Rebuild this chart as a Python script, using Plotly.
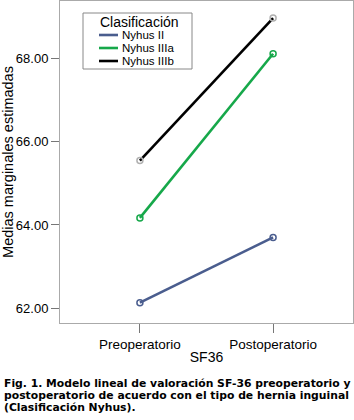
import plotly.graph_objects as go

categories = ["Preoperatorio", "Postoperatorio"]
series_names = ["Nyhus II", "Nyhus IIIa", "Nyhus IIIb"]
nyhus_ii = [62.13, 63.70]
nyhus_iiia = [64.17, 68.12]
nyhus_iiib = [65.55, 68.98]
y_ticks = [62, 64, 66, 68]
y_tick_labels = ["62.00", "64.00", "66.00", "68.00"]
caption_lines = [
    "Fig. 1. Modelo lineal de valoración SF-36 preoperatorio y",
    "postoperatorio de acuerdo con el tipo de hernia inguinal",
    "(Clasificación Nyhus).",
]

values = [nyhus_ii, nyhus_iiia, nyhus_iiib]
line_colors = ["#4a5d8e", "#16a84a", "#000000"]
marker_colors = ["#4a5d8e", "#16a84a", "#b0b0b0"]

W, H = 354, 420
L, R, T, B = 60, 1, 1, 97
pw, ph = W - L - R, H - T - B


def px(x):
    return (x - L) / pw


def py(y):
    return 1 - (y - T) / ph


fig = go.Figure()
for name, vals, lc, mc in zip(series_names, values, line_colors, marker_colors):
    fig.add_trace(go.Scatter(
        x=[0, 1], y=vals, mode="lines+markers", showlegend=False, name=name,
        line=dict(color=lc, width=2.6),
        marker=dict(symbol="circle-open", size=6, color=mc, line=dict(width=1.5, color=mc)),
        hoverinfo="skip"))

font_main = "Liberation Sans, Arial, sans-serif"

fig.update_layout(
    width=W, height=H,
    margin=dict(l=L, r=R, t=T, b=B),
    paper_bgcolor="white", plot_bgcolor="white",
    font=dict(family=font_main, size=12, color="#000"),
    showlegend=False,
    xaxis=dict(
        range=[-0.6, 1.6], tickmode="array", tickvals=[0, 1], ticktext=categories,
        ticks="outside", ticklen=9, tickcolor="#777", showgrid=False, automargin=False,
        showline=True, linecolor="#aaa", linewidth=1, mirror=True, zeroline=False,
        title=dict(text="SF36", font=dict(size=14), standoff=0),
        tickfont=dict(size=13.5),
    ),
    yaxis=dict(
        range=[61.64, 69.39], tickmode="array", tickvals=y_ticks, ticktext=y_tick_labels,
        ticks="outside", ticklen=8, tickcolor="#777", showgrid=False, automargin=False,
        showline=True, linecolor="#aaa", linewidth=1, mirror=True, zeroline=False,
        title=dict(text="Medias marginales estimadas", font=dict(size=14.5), standoff=3),
        tickfont=dict(size=13),
    ),
)

# legend box
fig.add_shape(type="rect", xref="paper", yref="paper",
              x0=px(83), x1=px(192), y0=py(69), y1=py(13),
              line=dict(color="#888", width=1), fillcolor="white", layer="above")
fig.add_annotation(xref="paper", yref="paper", x=px(98), y=py(22), xanchor="left",
                   yanchor="middle", showarrow=False, text="Clasificación",
                   font=dict(size=14, family=font_main))
for i, (name, lc) in enumerate(zip(series_names, line_colors)):
    yc = 35 + i * 13
    fig.add_shape(type="line", xref="paper", yref="paper",
                  x0=px(99), x1=px(118), y0=py(yc), y1=py(yc),
                  line=dict(color=lc, width=2.6), layer="above")
    fig.add_annotation(xref="paper", yref="paper", x=px(120), y=py(yc), xanchor="left",
                       yanchor="middle", showarrow=False, text=name,
                       font=dict(size=11.5, family=font_main))

# caption
for i, line in enumerate(caption_lines):
    fig.add_annotation(
        xref="paper", yref="paper", x=px(2), y=py(383.5 + i * 11.8),
        xanchor="left", yanchor="middle", align="left", showarrow=False,
        text="<b>" + line + "</b>",
        font=dict(size=10.8, family="DejaVu Sans, sans-serif"),
    )

fig.write_html(
    "out.html",
    config={"displayModeBar": False},
    post_script="document.body.style.margin='0';document.body.style.overflow='hidden';",
)
